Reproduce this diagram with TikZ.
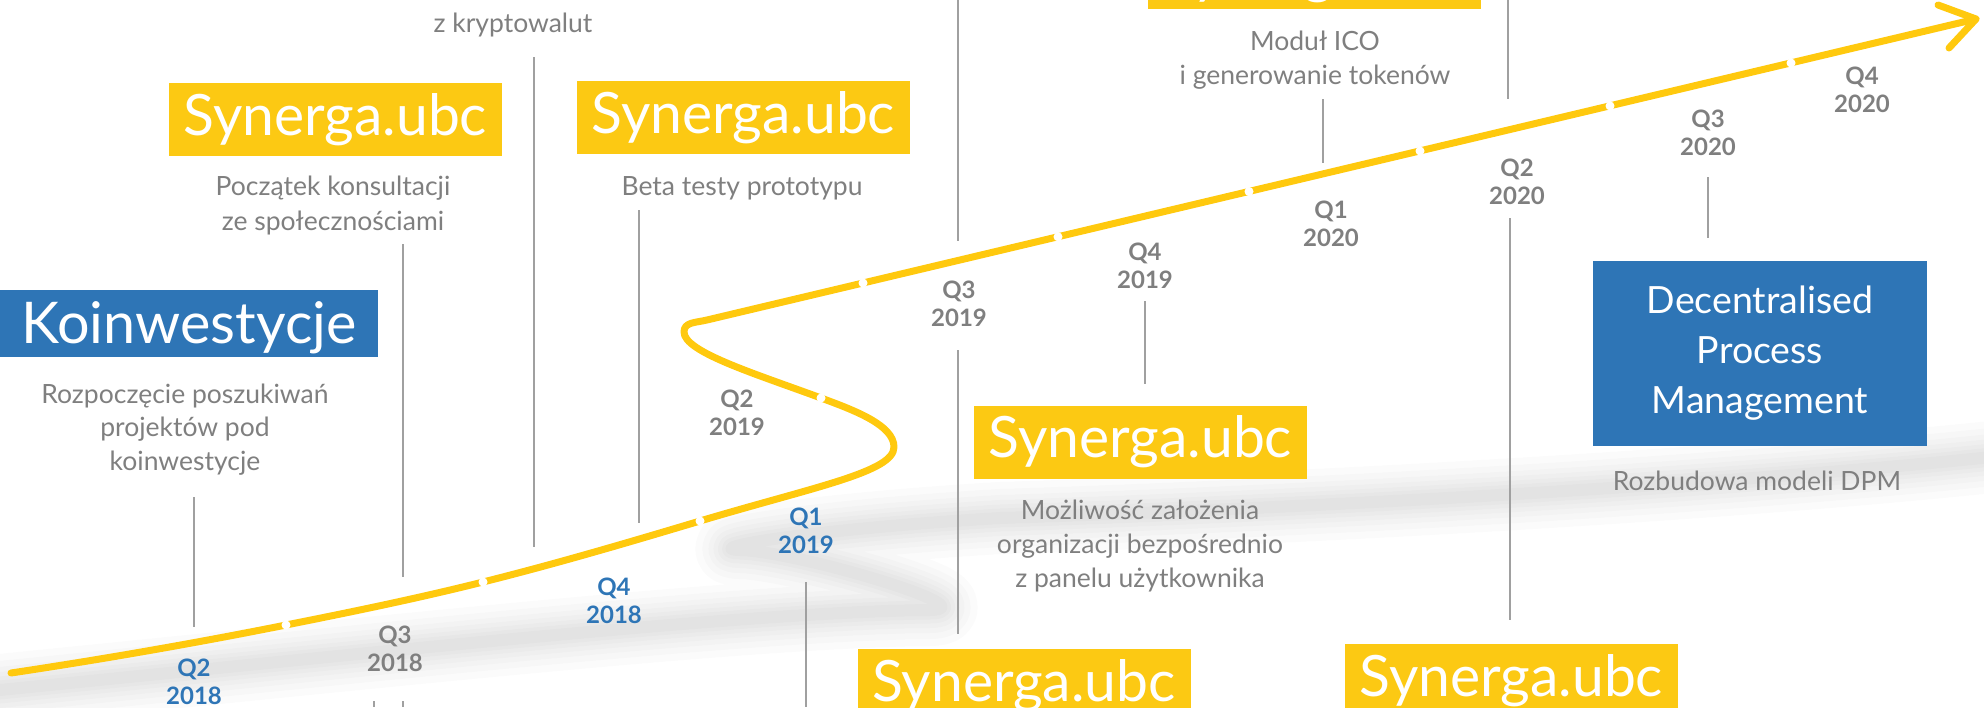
\documentclass[tikz,border=0pt]{standalone}
\usepackage{fontspec}
\setmainfont{Lato}
\usetikzlibrary{calc}
\definecolor{syn}{HTML}{FCC913}
\definecolor{roadc}{HTML}{FFC90E}
\definecolor{kblue}{HTML}{2E75B6}
\definecolor{tgrey}{HTML}{7F7F7F}
\definecolor{lgrey}{HTML}{A0A0A0}
\tikzset{
  ybox/.style={fill=syn, text=white, inner sep=0pt, minimum width=333pt, text height=52pt, text depth=21pt, font=\fontsize{57pt}{62pt}\selectfont},
  kbox/.style={fill=kblue, text=white, inner sep=0pt, minimum width=378pt, text height=53pt, text depth=14pt, font=\fontsize{57.5pt}{62pt}\selectfont},
  dpmbox/.style={fill=kblue, text=white, inner sep=0pt, minimum width=334pt, minimum height=185pt, align=center, font=\fontsize{37.5pt}{50pt}\selectfont},
  desc/.style={text=tgrey, anchor=base, align=center, inner sep=0pt, font=\fontsize{26.5pt}{34pt}\selectfont},
  qg/.style={text=tgrey, anchor=base, align=center, inner sep=0pt, font=\bfseries\fontsize{24pt}{28pt}\selectfont},
  qb/.style={qg, text=kblue},
  vline/.style={draw=lgrey, line width=2pt},
  road/.style={draw=roadc, line width=7pt, line cap=round, line join=round},
  dotw/.style={fill=white, draw=none},
  gshadow/.style={line width=#1, draw=black, opacity=0.014, line cap=round, line join=round},
}
\begin{document}
\begin{tikzpicture}[x=1pt,y=-1pt]
\useasboundingbox (0,0) rectangle (1984,707);
\clip (0,0) rectangle (1984,707);
% soft shadow
\foreach \w in {72,58,46,36,27,19,12}{
  \draw[gshadow=\w pt] (-20,692) .. controls (400,650) and (750,612) .. (930,610)
    .. controls (990,609) and (800,552) .. (740,550)
    .. controls (700,549) and (800,530) .. (1000,518)
    .. controls (1400,505) and (1800,478) .. (2010,455);
}
% coordinates of line ends
\coordinate (l1a) at (194,497); \coordinate (l1b) at (194,627);
\coordinate (l2a) at (403,244); \coordinate (l2b) at (403,577);
\coordinate (l3a) at (534,57);  \coordinate (l3b) at (534,547);
\coordinate (l4a) at (639,210); \coordinate (l4b) at (639,523);
\coordinate (l5a) at (958,0);   \coordinate (l5b) at (958,241);
\coordinate (l6a) at (958,350); \coordinate (l6b) at (958,634);
\coordinate (l7a) at (1145,301); \coordinate (l7b) at (1145,384);
\coordinate (l8a) at (1323,99); \coordinate (l8b) at (1323,163);
\coordinate (l9a) at (1508,0);  \coordinate (l9b) at (1508,99);
\coordinate (l10a) at (1510,218); \coordinate (l10b) at (1510,620);
\coordinate (l11a) at (1708,177); \coordinate (l11b) at (1708,238);
\coordinate (l12a) at (806,582); \coordinate (l12b) at (806,707);
\coordinate (m1a) at (374,701); \coordinate (m1b) at (374,707);
\coordinate (m2a) at (403,701); \coordinate (m2b) at (403,707);
\foreach \p in {l1,l2,l3,l4,l5,l6,l7,l8,l9,l10,l11,l12,m1,m2}{
  \draw[vline] (\p a) -- (\p b);
}
% the road
\coordinate (start) at (11,673);
\coordinate (tip) at (1976,19);
\coordinate (arma) at (1938,5);
\coordinate (armb) at (1949,48);
\draw[road] (start) .. controls (103,659.2) and (194.8,643.2) .. (286,625)
 .. controls (351.7,611.9) and (418,598.3) .. (483,582)
 .. controls (555.8,563.8) and (628.2,542.5) .. (700,521)
 .. controls (815,486.6) and (894,472) .. (894,447)
 .. controls (894,425) and (853.8,410.1) .. (821,398)
 .. controls (755.3,373.7) and (684,352) .. (684,332)
 .. controls (684,322) and (695.3,322.8) .. (707,320)
 -- (tip);
\draw[road] (arma) -- (tip) -- (armb);
\foreach \x/\y in {286/625,483/582,700/521,821/398,863/283,1058/236.8,1249/191.5,1420/151,1610/105.9,1791/63}{
  \fill[dotw] (\x,\y) circle (4.5pt);
}
% boxes
\node[ybox] (s1) at (335.5,119.5) {Synerga.ubc};
\node[ybox] (s2) at (743.5,117.5) {Synerga.ubc};
\node[ybox, text height=56pt, text depth=17pt] (s3) at (1314.5,-27.5) {Synerga.ubc};
\node[ybox] (s4) at (1140.5,442) {Synerga.ubc};
\node[ybox] (s5) at (1024,685.5) {Synerga.ubc};
\node[ybox] (s6) at (1511.5,680.5) {Synerga.ubc};
\node[kbox] (k) at (189,323.5) {Koinwestycje};
\node[dpmbox] (dpm) at (1760,353.5) {Decentralised\\Process\\Management};
% descriptions (anchored at the baseline of the last line)
\node[desc, font=\fontsize{26.5pt}{33.5pt}\selectfont] (d1) at (185,470) {Rozpoczęcie poszukiwań\\projektów pod\\koinwestycje};
\node[desc, font=\fontsize{26.5pt}{35pt}\selectfont] (d2) at (333,230) {Początek konsultacji\\ze społecznościami};
\node[desc] (d3) at (513,32) {z kryptowalut};
\node[desc] (d4) at (742,195) {Beta testy prototypu};
\node[desc] (d5) at (1315,84) {Moduł ICO\\i generowanie tokenów};
\node[desc] (d6) at (1140,587) {Możliwość założenia\\organizacji bezpośrednio\\z panelu użytkownika};
\node[desc] (d7) at (1757,490) {Rozbudowa modeli DPM};
% quarters (anchored at the baseline of the year)
\node[qb] (q1) at (194,704) {Q2\\2018};
\node[qg] (q2) at (395,671) {Q3\\2018};
\node[qb] (q3) at (614,623) {Q4\\2018};
\node[qb] (q4) at (806,553) {Q1\\2019};
\node[qg] (q5) at (737,435) {Q2\\2019};
\node[qg] (q6) at (959,326) {Q3\\2019};
\node[qg] (q7) at (1145,288) {Q4\\2019};
\node[qg] (q8) at (1331,246) {Q1\\2020};
\node[qg] (q9) at (1517,204) {Q2\\2020};
\node[qg] (q10) at (1708,155) {Q3\\2020};
\node[qg] (q11) at (1862,112) {Q4\\2020};
\end{tikzpicture}
\end{document}
